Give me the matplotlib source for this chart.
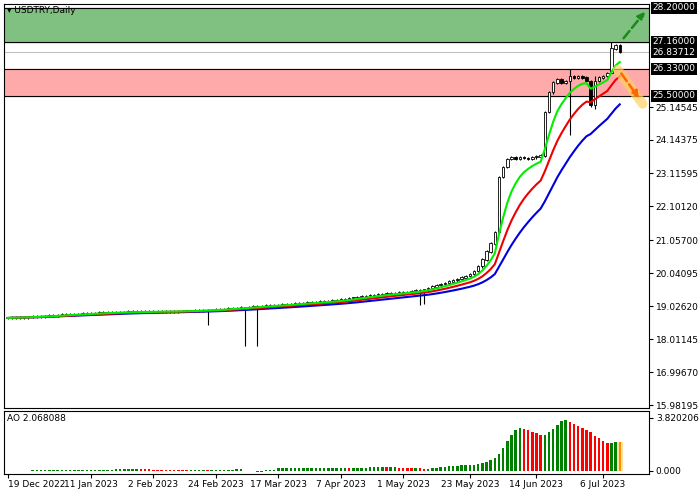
import numpy as np
import pandas as pd
import matplotlib
matplotlib.use("Agg")
import matplotlib.pyplot as plt

closes = [
    18.66, 18.67, 18.67, 18.68, 18.68, 18.69, 18.70, 18.70, 18.71, 18.72, 18.73, 18.74, 18.75, 18.76, 18.76, 18.77, 18.78,
    18.78, 18.79, 18.80, 18.80, 18.81, 18.82, 18.82, 18.83, 18.83, 18.84, 18.84, 18.84, 18.85, 18.85, 18.85, 18.85,
    18.85, 18.84, 18.86, 18.86, 18.87, 18.86, 18.85, 18.86, 18.87, 18.87, 18.88, 18.88, 18.89, 18.89, 18.90, 18.90,
    18.91, 18.92, 18.93, 18.93, 18.95, 18.96, 18.97, 18.98, 18.99, 19.00, 19.01, 19.02, 19.03, 19.04, 19.05,
    19.05, 19.06, 19.07, 19.08, 19.09, 19.10, 19.11, 19.12, 19.13, 19.14, 19.15, 19.16, 19.17, 19.18, 19.19,
    19.20, 19.22, 19.24, 19.26, 19.28, 19.30, 19.32, 19.34, 19.35, 19.37, 19.38, 19.40, 19.41, 19.42, 19.43, 19.44,
    19.45, 19.46, 19.48, 19.50, 19.52, 19.55, 19.58, 19.62, 19.66, 19.70, 19.74, 19.78, 19.82, 19.86, 19.90, 19.95,
    20.00, 20.10, 20.25, 20.45, 20.70, 20.95, 21.30, 23.00, 23.30, 23.55, 23.60, 23.55, 23.60, 23.58, 23.55, 23.60,
    23.62, 23.65, 25.00, 25.60, 25.90, 26.00, 25.90, 25.95, 26.10, 26.05, 26.10, 26.05, 25.95, 25.20, 25.95, 26.05,
    26.10, 26.20, 26.95, 27.05, 26.84,
]
# wick extremes that stand out on the chart: bar index -> (low, high)
spikes = {48: (18.45, 18.95), 57: (17.80, 19.00), 60: (17.80, 19.05), 99: (19.05, 19.55),
          100: (19.10, 19.55), 135: (24.30, 26.33), 141: (25.10, 26.10), 145: (26.20, 27.16)}

date_labels = ["19 Dec 2022", "11 Jan 2023", "2 Feb 2023", "24 Feb 2023", "17 Mar 2023",
               "7 Apr 2023", "1 May 2023", "23 May 2023", "14 Jun 2023", "6 Jul 2023"]
label_idx = [0, 20, 35, 50, 65, 80, 95, 111, 127, 143]
price_ticks = [25.14545, 24.14375, 23.11595, 22.10120, 21.05700, 20.04095,
               19.02620, 18.01145, 16.99670, 15.98195]
levels = {28.2: "28.20000", 27.16: "27.16000", 26.33: "26.33000", 25.5: "25.50000"}
last_price = 26.83712

c = np.array(closes)
n = len(c)
o = np.r_[c[0], c[:-1]]
hi = np.maximum(o, c) + 0.04
lo = np.minimum(o, c) - 0.04
for k, (l, h) in spikes.items():
    lo[k], hi[k] = l, h
x = np.arange(n)

s = pd.Series(c)
ma_g = s.ewm(span=7).mean()
ma_r = s.ewm(span=14).mean()
ma_b = s.ewm(span=26).mean()
med = pd.Series((hi + lo) / 2)
ao = (med.rolling(5, min_periods=1).mean() - med.rolling(34, min_periods=1).mean()).values

fig = plt.figure(figsize=(7, 5), dpi=100)
ax = fig.add_axes([0.005, 0.184, 0.922, 0.808])
ax2 = fig.add_axes([0.005, 0.052, 0.922, 0.126])
xmax = n + 6
YL = (15.89, 28.32)

ax.axhspan(27.16, 28.2, color="#80c080", zorder=0)
ax.axhspan(25.5, 26.33, color="#ffaaaa", zorder=0)
for y in levels:
    ax.axhline(y, color="black", lw=0.8, zorder=1)
ax.axhline(last_price, color="#c0c0c0", lw=0.8, zorder=1)

ax.vlines(x, lo, hi, color="black", lw=0.8, zorder=3)
up = c >= o
ax.bar(x, np.abs(c - o) + 0.01, bottom=np.minimum(o, c), width=0.6,
       color=np.where(up, "white", "black"), edgecolor="black", lw=0.6, zorder=4)

ax.plot(x, ma_b, color="#0000dd", lw=1.5, zorder=5)
ax.plot(x, ma_r, color="#ee0000", lw=1.5, zorder=5)
ax.plot(x, ma_g, color="#00ee00", lw=1.5, zorder=5)

ax.annotate("", xy=(n + 5.5, 28.15), xytext=(n - 0.5, 27.2),
            arrowprops=dict(arrowstyle="-|>", color="#1a8a1a", lw=1.8, ls="--"))
ax.plot([n - 1.5, n + 4.5], [26.3, 25.25], color="#ffd060", lw=7, alpha=0.7, solid_capstyle="round", zorder=6)
ax.annotate("", xy=(n + 4, 25.35), xytext=(n - 1, 26.25),
            arrowprops=dict(arrowstyle="-|>", color="#ff6600", lw=1.8, ls="--"), zorder=7)

ax.set_xlim(-1, xmax)
ax.set_ylim(*YL)
ax.set_xticks([])
ax.yaxis.tick_right()
ax.set_yticks(price_ticks)
ax.set_yticklabels([f"{t:.5f}" for t in price_ticks], fontsize=6.5)
ax.tick_params(axis="y", length=3, pad=2)
boxed = list(levels.items()) + [(last_price, f"{last_price:.5f}")]
for y, t in boxed:
    ax.text(1.006, (y - YL[0]) / (YL[1] - YL[0]), t, transform=ax.transAxes, fontsize=6.5,
            color="white", va="center", ha="left",
            bbox=dict(boxstyle="square,pad=0.15", fc="black", ec="none"))
ax.text(0.005, 0.995, "▾ USDTRY,Daily", transform=ax.transAxes, fontsize=6.5, va="top", ha="left")

cols = ["green" if i > 0 and ao[i] >= ao[i - 1] else "red" for i in range(n)]
cols[-1] = "#ff8c00"
ax2.bar(x, ao, width=0.6, color=cols)
ax2.bar(x[-1], ao[-1], width=1.6, color="#ffd060", alpha=0.6, zorder=0)
ax2.set_xlim(-1, xmax)
ax2.set_ylim(-0.25, 4.3)
ax2.yaxis.tick_right()
ax2.set_yticks([3.820206, 0.0])
ax2.set_yticklabels(["3.820206", "0.000"], fontsize=6.5)
ax2.tick_params(axis="y", length=3, pad=2)
ax2.set_xticks(label_idx)
ax2.set_xticklabels(date_labels, fontsize=6.5)
ax2.get_xticklabels()[0].set_ha("left")
ax2.tick_params(axis="x", length=3, pad=1)
ax2.text(0.005, 0.95, f"AO {ao[-1]:.6f}", transform=ax2.transAxes, fontsize=6.5, va="top", ha="left")

fig.savefig("out.png")
